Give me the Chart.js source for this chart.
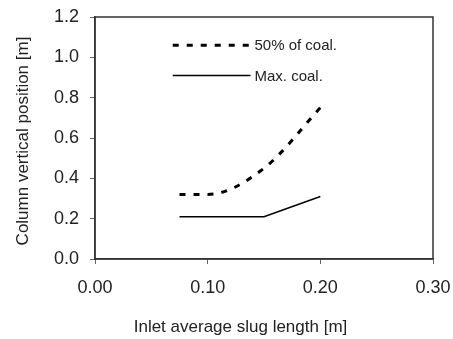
<!DOCTYPE html>
<html>
<head>
<meta charset="utf-8">
<script src="https://cdn.jsdelivr.net/npm/chart.js@4/dist/chart.umd.min.js"></script>
<style>
html,body{margin:0;padding:0;background:#fff;}
#wrap{width:453px;height:339px;}
</style>
</head>
<body>
<div id="wrap"><canvas id="c" width="453" height="339"></canvas></div>
<script>
const xTicks = [0.00, 0.10, 0.20, 0.30];
const yTicks = [0.0, 0.2, 0.4, 0.6, 0.8, 1.0, 1.2];
const slugLength = [0.075, 0.10, 0.15, 0.20];
const halfCoal = [0.32, 0.32, 0.45, 0.75];
const maxCoalX = [0.075, 0.10, 0.15, 0.20];
const maxCoal = [0.21, 0.21, 0.21, 0.31];
const seriesNames = ['50% of coal.', 'Max. coal.'];
const xTitle = 'Inlet average slug length [m]';
const yTitle = 'Column vertical position [m]';

const FONT = 'Liberation Sans';
const TXT = '#222';

const legendPlugin = {
  id: 'inLegend',
  afterDatasetsDraw(chart) {
    const ctx = chart.ctx;
    const xs = chart.scales.x, ys = chart.scales.y;
    const x0 = xs.getPixelForValue(0.069), x1 = xs.getPixelForValue(0.138);
    const rows = [ys.getPixelForValue(1.06), ys.getPixelForValue(0.91)];
    ctx.save();
    chart.data.datasets.forEach((ds, i) => {
      const y = rows[i];
      ctx.beginPath();
      ctx.strokeStyle = ds.borderColor;
      ctx.lineWidth = ds.borderWidth;
      ctx.setLineDash(ds.borderDash || []);
      ctx.moveTo(x0, y); ctx.lineTo(x1, y);
      ctx.stroke();
      ctx.setLineDash([]);
      ctx.fillStyle = TXT;
      ctx.font = '15px "' + FONT + '"';
      ctx.textBaseline = 'middle';
      ctx.textAlign = 'left';
      ctx.fillText(ds.label, x1 + 4, y + 1);
    });
    ctx.restore();
  }
};

const framePlugin = {
  id: 'frame',
  afterDraw(chart) {
    const a = chart.chartArea, ctx = chart.ctx;
    ctx.save();
    ctx.strokeStyle = '#333';
    ctx.lineWidth = 1.5;
    ctx.strokeRect(a.left, a.top, a.right - a.left, a.bottom - a.top);
    // axis titles
    ctx.fillStyle = TXT;
    ctx.font = '17px "' + FONT + '"';
    ctx.textAlign = 'center';
    ctx.textBaseline = 'middle';
    ctx.fillText(xTitle, 240.5, 327);
    ctx.translate(23, 141);
    ctx.rotate(-Math.PI / 2);
    ctx.fillText(yTitle, 0, 0);
    ctx.restore();
  }
};

new Chart(document.getElementById('c'), {
  type: 'line',
  data: {
    datasets: [
      {
        label: seriesNames[0],
        data: slugLength.map((x, i) => ({x: x, y: halfCoal[i]})),
        borderColor: '#000', borderWidth: 3, borderDash: [6, 8],
        pointRadius: 0, cubicInterpolationMode: 'monotone', fill: false
      },
      {
        label: seriesNames[1],
        data: maxCoalX.map((x, i) => ({x: x, y: maxCoal[i]})),
        borderColor: '#000', borderWidth: 1.5,
        pointRadius: 0, tension: 0, fill: false
      }
    ]
  },
  options: {
    responsive: false,
    animation: false,
    layout: {padding: {top: 17, right: 20, left: 0, bottom: 0}},
    plugins: {legend: {display: false}, tooltip: {enabled: false}},
    scales: {
      x: {
        type: 'linear', min: 0, max: 0.3,
        afterBuildTicks: s => { s.ticks = xTicks.map(v => ({value: v})); },
        afterFit: s => { s.height = 80; s.paddingLeft = 0; s.paddingRight = 0; },
        grid: {display: true, drawOnChartArea: false, drawTicks: true, tickLength: 5, color: '#666'},
        border: {color: '#333', width: 1.5},
        ticks: {color: TXT, font: {family: FONT, size: 18}, padding: 13, callback: v => v.toFixed(2), maxRotation: 0},
        title: {display: false}
      },
      y: {
        type: 'linear', min: 0, max: 1.2,
        afterBuildTicks: s => { s.ticks = yTicks.map(v => ({value: v})); },
        afterFit: s => { s.width = 95; s.paddingTop = 0; s.paddingBottom = 0; },
        grid: {display: true, drawOnChartArea: false, drawTicks: true, tickLength: 5, color: '#666'},
        border: {color: '#333', width: 1.5},
        ticks: {color: TXT, font: {family: FONT, size: 18}, padding: 11, callback: v => v.toFixed(1)},
        title: {display: false}
      }
    }
  },
  plugins: [legendPlugin, framePlugin]
});
</script>
</body>
</html>
